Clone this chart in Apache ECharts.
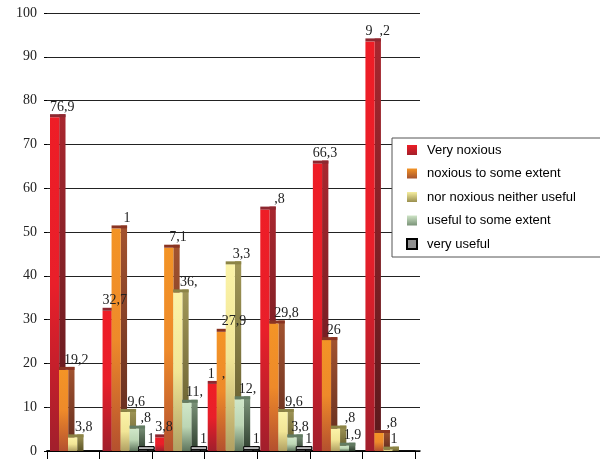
<!DOCTYPE html>
<html>
<head>
<meta charset="utf-8">
<script src="https://cdn.jsdelivr.net/npm/echarts@6/dist/echarts.min.js"></script>
<style>
  html, body { margin: 0; padding: 0; background: #fff; }
  #chart { width: 600px; height: 461px; }
</style>
</head>
<body>
<div id="chart"></div>
<script>
// ---- data -----------------------------------------------------------------
const categories = ['1', '2', '3', '4', '5', '6', '7'];
const seriesNames = ['Very noxious', 'noxious to some extent', 'nor noxious neither useful', 'useful to some extent', 'very useful'];

const veryNoxious = [76.9, 32.7, 3.8, 16.0, 55.8, 66.3, 94.2];
const noxiousSome = [19.2, 51.5, 47.1, 27.9, 29.8, 26.0, 4.8];
const neitherNor = [3.8, 9.6, 36.9, 43.3, 9.6, 5.8, 1.0];
const usefulSome = [0, 5.8, 11.7, 12.5, 3.8, 1.9, 0];
const veryUseful = [0, 1, 1, 1, 1, 0, 0];

// value labels as they show on the picture (some digits are missing there)
const FS = '\u2007';
const veryNoxiousLabels = ['76,9', '32,7', '3,8', '1' + FS + ',', FS + FS + ',8', '66,3', '9' + FS + ',2'];
const noxiousSomeLabels = ['19,2', FS + '1', '7,1', '27,9', '29,8', '26', FS + ',8'];
const neitherNorLabels = ['3,8', '9,6', '36,', '3,3', '9,6', FS + ',8', '1'];
const usefulSomeLabels = ['', FS + ',8', '11,', '12,', '3,8', '1,9', ''];
const veryUsefulLabels = ['', '1', '1', '1', '1', '', ''];

const yTicks = { min: 0, max: 100, interval: 10 };

// ---- looks ----------------------------------------------------------------
const allValues = [veryNoxious, noxiousSome, neitherNor, usefulSome, veryUseful];
const allLabels = [veryNoxiousLabels, noxiousSomeLabels, neitherNorLabels, usefulSomeLabels, veryUsefulLabels];

const looks = [
  { front: ['#ee1d26', '#e91f2a', '#a11f2c'], side: ['#a9272f', '#5a191c'], cap: '#8d2830', icon: ['#ee1d26', '#a3202b'], labelDx: 0 },
  { front: ['#f39426', '#ee8a2a', '#b4502e'], side: ['#a3532f', '#5e2a1e'], cap: '#8a3422', icon: ['#f39426', '#a6522e'], labelDx: 5 },
  { front: ['#fbf3a8', '#f1e596', '#b0a062'], side: ['#a19758', '#5c5427'], cap: '#8c8446', icon: ['#f6eea0', '#9a8f4e'], labelDx: 7 },
  { front: ['#d0e7c9', '#bcd6b4', '#5d745c'], side: ['#7d957b', '#2e3e2e'], cap: '#637c63', icon: ['#cfe5c7', '#7a9378'], labelDx: 4 },
  { front: ['#8e8e8e', '#8a8a8a', '#6e6e6e'], side: ['#5e5e5e', '#404040'], cap: '#b8b8b8', icon: ['#8e8e8e', '#8e8e8e'], labelDx: 9, stroke: '#000' }
];

function vgrad(stops) {
  const n = stops.length - 1;
  return new echarts.graphic.LinearGradient(0, 0, 0, 1,
    stops.map((c, i) => ({ offset: n ? i / n : 0, color: c })));
}

function renderBox(sIdx) {
  const look = looks[sIdx];
  return function (params, api) {
    const cat = api.value(0);
    const val = api.value(1);
    const W = api.size([1, 0])[0];
    const base = api.coord([cat, 0]);
    const top = api.coord([cat, val]);
    const pitch = W * 0.171;
    const fw = W * 0.175;
    const sw = W * 0.12;
    const x = base[0] - W / 2 + 3 + sIdx * pitch;
    const h = base[1] - top[1];
    const children = [];
    if (val > 0) {
      const capH = Math.min(3, h);
      const stroke = look.stroke ? { stroke: look.stroke, lineWidth: 1 } : {};
      children.push({
        type: 'rect',
        shape: { x: x + fw, y: top[1], width: sw, height: h },
        style: Object.assign({ fill: vgrad(look.side) }, stroke)
      });
      children.push({
        type: 'rect',
        shape: { x: x, y: top[1] + capH, width: fw, height: h - capH },
        style: Object.assign({ fill: vgrad(look.front) }, stroke)
      });
      children.push({
        type: 'rect',
        shape: { x: x, y: top[1], width: fw + sw, height: capH },
        style: Object.assign({ fill: look.cap }, stroke)
      });
    }
    const txt = allLabels[sIdx][cat];
    if (txt) {
      children.push({
        type: 'text',
        z2: 100,
        style: {
          x: x + look.labelDx,
          y: top[1] - 7,
          text: txt,
          fill: '#222',
          font: '14px "Liberation Serif", "DejaVu Serif", serif',
          textAlign: 'left',
          textVerticalAlign: 'middle'
        }
      });
    }
    return { type: 'group', children: children };
  };
}

const chart = echarts.init(document.getElementById('chart'), null, { renderer: 'canvas' });

const series = seriesNames.map((name, s) => ({
  name: name,
  type: 'custom',
  xAxisIndex: 1,
  yAxisIndex: 1,
  renderItem: renderBox(s),
  encode: { x: 0, y: 1 },
  itemStyle: {
    color: vgrad(looks[s].icon),
    borderColor: looks[s].stroke || 'transparent',
    borderWidth: looks[s].stroke ? 1 : 0
  },
  data: allValues[s].map((v, i) => [i, v]),
  animation: false
}));

chart.setOption({
  backgroundColor: '#fff',
  animation: false,
  // grid 0: back wall (gridlines reach a bit further), grid 1: floor with the bars
  grid: [
    { left: 47, right: 180, top: 13, bottom: 10, containLabel: false },
    { left: 47, right: 185, top: 13, bottom: 10, containLabel: false }
  ],
  legend: {
    orient: 'vertical',
    left: 392,
    top: 138,
    icon: 'rect',
    itemWidth: 10,
    itemHeight: 10,
    itemGap: 9.5,
    padding: [5, 30, 6, 14],
    borderColor: '#555',
    borderWidth: 1,
    backgroundColor: '#fff',
    textStyle: {
      fontFamily: '"Liberation Sans", Arial, sans-serif',
      fontSize: 13,
      color: '#000',
      lineHeight: 14,
      padding: [0, 0, 0, 5]
    },
    data: seriesNames
  },
  xAxis: [
    {
      type: 'category',
      gridIndex: 0,
      data: categories,
      axisLine: { lineStyle: { color: '#000', width: 1.5 } },
      axisTick: { show: false },
      axisLabel: { show: false },
      splitLine: { show: false }
    },
    {
      type: 'category',
      gridIndex: 1,
      data: categories,
      boundaryGap: true,
      axisLine: { lineStyle: { color: '#000', width: 1.5 } },
      axisTick: { show: true, length: 8, lineStyle: { color: '#000' } },
      axisLabel: { show: false },
      splitLine: { show: false }
    }
  ],
  yAxis: [
    {
      type: 'value',
      gridIndex: 0,
      min: yTicks.min,
      max: yTicks.max,
      interval: yTicks.interval,
      axisLine: { show: false },
      axisTick: { show: true, length: 3, lineStyle: { color: '#000' } },
      axisLabel: {
        margin: 10,
        color: '#222',
        fontSize: 14,
        fontFamily: '"Liberation Serif", "DejaVu Serif", serif'
      },
      splitLine: { lineStyle: { color: '#222', width: 1 } }
    },
    {
      type: 'value',
      gridIndex: 1,
      min: yTicks.min,
      max: yTicks.max,
      interval: yTicks.interval,
      axisLine: { show: false },
      axisTick: { show: false },
      axisLabel: { show: false },
      splitLine: { show: false }
    }
  ],
  series: series
});
</script>
</body>
</html>
